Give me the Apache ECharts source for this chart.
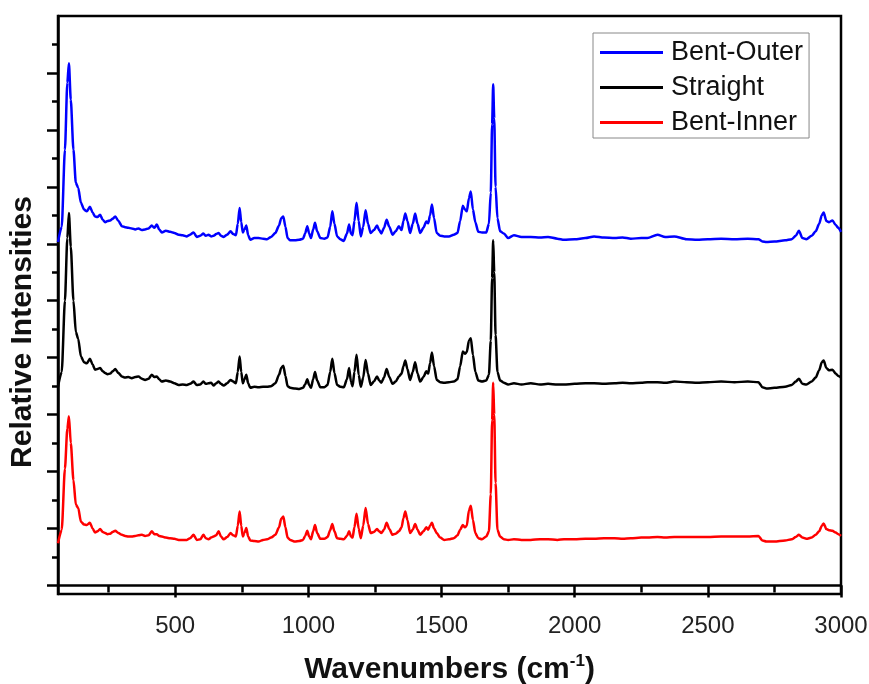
<!DOCTYPE html>
<html>
<head>
<meta charset="utf-8">
<script src="https://cdn.jsdelivr.net/npm/echarts@6/dist/echarts.min.js"></script>
<style>
html,body{margin:0;padding:0;background:#fff;}
#chart{width:869px;height:684px;}
</style>
</head>
<body>
<div id="chart"></div>
<script>
// Wavenumbers (cm-1), shared by all three spectra
const wavenumbers = [
60,74,86,95,101,108,118,127,136,146,158,168,180,190,199,208,218,228,237,246,
256,265,275,287,300,312,324,337,350,362,375,387,400,412,422,431,440,450,465,481,
497,513,528,544,556,569,581,594,606,615,625,635,644,654,663,672,682,695,708,718,
728,735,742,748,754,760,767,774,782,797,813,830,845,860,876,890,898,906,914,922,
932,950,966,980,988,996,1003,1010,1018,1025,1033,1045,1060,1072,1082,1090,1098,1108,1120,1133,
1145,1153,1160,1166,1173,1181,1189,1197,1206,1215,1224,1234,1246,1258,1266,1274,1284,1294,1304,1316,
1328,1340,1350,1357,1364,1372,1382,1392,1401,1410,1420,1432,1443,1450,1457,1464,1472,1482,1495,1510,
1528,1546,1560,1570,1580,1588,1595,1603,1610,1618,1627,1638,1652,1668,1678,1685,1690,1694,1698,1703,
1710,1720,1734,1750,1772,1800,1835,1870,1900,1935,1960,2000,2040,2073,2110,2150,2180,2211,2250,2273,
2311,2340,2374,2420,2460,2500,2550,2600,2650,2690,2705,2720,2750,2790,2815,2830,2842,2855,2870,2890,
2905,2918,2928,2935,2945,2955,2968,2980,2990,3000
];

const bentOuter = [
6.03,6.30,7.65,8.83,9.17,8.53,7.65,7.07,6.98,6.72,6.60,6.57,6.65,6.55,6.48,6.47,6.51,6.42,6.38,6.40,
6.41,6.44,6.48,6.40,6.31,6.29,6.28,6.27,6.25,6.27,6.24,6.25,6.27,6.32,6.28,6.34,6.25,6.20,6.23,6.21,
6.19,6.16,6.15,6.13,6.16,6.20,6.12,6.14,6.18,6.14,6.16,6.13,6.14,6.17,6.19,6.14,6.12,6.16,6.22,6.17,
6.15,6.35,6.63,6.38,6.20,6.25,6.32,6.15,6.07,6.10,6.10,6.09,6.08,6.12,6.19,6.32,6.45,6.48,6.30,6.10,
6.06,6.06,6.07,6.09,6.18,6.31,6.18,6.10,6.25,6.37,6.22,6.10,6.09,6.11,6.30,6.57,6.35,6.13,6.08,6.05,
6.18,6.34,6.18,6.15,6.40,6.72,6.40,6.13,6.30,6.59,6.35,6.19,6.24,6.32,6.24,6.18,6.28,6.42,6.30,6.16,
6.22,6.31,6.24,6.40,6.53,6.40,6.19,6.35,6.53,6.35,6.19,6.28,6.39,6.36,6.50,6.69,6.45,6.19,6.14,6.13,
6.13,6.16,6.19,6.40,6.67,6.60,6.57,6.80,6.92,6.60,6.38,6.21,6.20,6.20,6.35,6.90,8.10,8.80,8.20,7.00,
6.45,6.22,6.18,6.10,6.15,6.12,6.12,6.11,6.12,6.09,6.07,6.08,6.10,6.13,6.11,6.10,6.11,6.09,6.10,6.10,
6.16,6.12,6.13,6.08,6.07,6.08,6.09,6.08,6.09,6.08,6.04,6.03,6.04,6.06,6.08,6.14,6.23,6.10,6.08,6.14,
6.22,6.35,6.50,6.55,6.40,6.38,6.41,6.33,6.28,6.21
];

const straight = [
3.49,3.75,5.00,6.10,6.54,5.95,5.00,4.45,4.33,4.02,3.92,3.90,3.98,3.88,3.79,3.80,3.82,3.76,3.73,3.71,
3.72,3.76,3.80,3.73,3.67,3.65,3.66,3.64,3.66,3.67,3.63,3.61,3.63,3.70,3.66,3.67,3.62,3.58,3.60,3.58,
3.55,3.52,3.53,3.52,3.54,3.58,3.52,3.53,3.58,3.54,3.55,3.56,3.51,3.55,3.58,3.54,3.51,3.55,3.61,3.58,
3.55,3.75,4.02,3.75,3.55,3.62,3.70,3.55,3.47,3.49,3.48,3.49,3.49,3.50,3.55,3.70,3.82,3.86,3.68,3.50,
3.47,3.46,3.45,3.47,3.53,3.62,3.52,3.47,3.62,3.75,3.60,3.48,3.48,3.52,3.75,3.98,3.73,3.52,3.49,3.48,
3.62,3.82,3.58,3.50,3.75,4.05,3.70,3.49,3.65,3.96,3.72,3.52,3.58,3.67,3.60,3.56,3.65,3.80,3.66,3.54,
3.58,3.67,3.72,3.85,3.95,3.80,3.61,3.75,3.92,3.72,3.58,3.66,3.76,3.72,3.90,4.09,3.85,3.61,3.57,3.56,
3.57,3.58,3.62,3.85,4.11,4.07,4.10,4.30,4.34,4.05,3.75,3.60,3.58,3.60,3.70,4.30,5.40,6.06,5.50,4.40,
3.75,3.60,3.56,3.53,3.55,3.53,3.55,3.53,3.54,3.53,3.53,3.54,3.55,3.55,3.54,3.55,3.56,3.55,3.56,3.57,
3.57,3.56,3.58,3.57,3.56,3.57,3.58,3.57,3.58,3.57,3.48,3.46,3.47,3.49,3.52,3.58,3.63,3.54,3.53,3.58,
3.65,3.78,3.92,3.95,3.82,3.78,3.79,3.72,3.68,3.65
];

const bentInner = [
0.74,0.98,2.05,2.75,2.97,2.50,1.85,1.42,1.36,1.12,1.07,1.06,1.10,1.00,0.93,0.95,0.99,0.94,0.92,0.90,
0.91,0.94,0.96,0.92,0.89,0.87,0.86,0.86,0.87,0.88,0.89,0.87,0.88,0.95,0.90,0.90,0.87,0.86,0.84,0.83,
0.82,0.80,0.80,0.80,0.83,0.89,0.80,0.81,0.89,0.83,0.81,0.84,0.86,0.88,0.95,0.86,0.81,0.85,0.92,0.88,
0.86,1.05,1.30,1.05,0.86,0.92,1.01,0.86,0.79,0.78,0.77,0.80,0.81,0.84,0.89,1.02,1.17,1.21,1.02,0.84,
0.80,0.77,0.78,0.80,0.87,0.96,0.86,0.81,0.95,1.06,0.92,0.82,0.82,0.85,0.97,1.08,0.95,0.83,0.82,0.81,
0.87,0.95,0.86,0.84,1.02,1.26,1.00,0.83,1.05,1.36,1.08,0.92,0.94,0.99,0.95,0.92,0.98,1.10,0.99,0.89,
0.91,0.95,1.02,1.18,1.30,1.15,0.92,0.98,1.08,0.98,0.89,0.95,1.02,0.98,1.05,1.10,1.00,0.92,0.84,0.80,
0.81,0.83,0.88,0.98,1.06,1.02,1.05,1.32,1.40,1.15,0.92,0.83,0.81,0.86,0.95,1.60,2.90,3.56,3.00,1.80,
0.98,0.86,0.81,0.80,0.81,0.80,0.80,0.81,0.81,0.80,0.81,0.81,0.82,0.82,0.83,0.83,0.82,0.83,0.84,0.84,
0.85,0.84,0.85,0.85,0.85,0.85,0.86,0.86,0.86,0.87,0.79,0.77,0.77,0.79,0.81,0.85,0.89,0.84,0.82,0.84,
0.89,0.95,1.05,1.09,0.99,0.97,0.96,0.93,0.90,0.87
];

const seriesNames = ['Bent-Outer', 'Straight', 'Bent-Inner'];
const xMajorTicks = [500, 1000, 1500, 2000, 2500, 3000];
const xMinorTicks = [250, 750, 1250, 1750, 2250, 2750];
const yMajorTicks = [0, 1, 2, 3, 4, 5, 6, 7, 8, 9];
const yMinorTicks = [0.5, 1.5, 2.5, 3.5, 4.5, 5.5, 6.5, 7.5, 8.5, 9.5];

const FONT = 'Liberation Sans, Arial, sans-serif';
const toPairs = vals => wavenumbers.map((w, i) => [w, vals[i]]);
const axisLineStyle = { color: '#000', width: 2.5 };

const chart = echarts.init(document.getElementById('chart'), null, { renderer: 'canvas' });
chart.setOption({
  animation: false,
  backgroundColor: '#fff',
  grid: {
    left: 58, right: 28, top: 16, bottom: 90,
    containLabel: false, outerBoundsMode: 'none',
    show: true, borderColor: '#000', borderWidth: 2.5, backgroundColor: 'transparent'
  },
  legend: {
    data: seriesNames,
    orient: 'vertical',
    left: 593, top: 33,
    icon: 'rect',
    itemWidth: 63, itemHeight: 3,
    itemGap: 8,
    padding: [6, 6, 2, 7],
    borderColor: '#888', borderWidth: 1,
    textStyle: { fontSize: 27, color: '#111', fontFamily: FONT, padding: [0, 0, 0, 3] }
  },
  graphic: [{
    type: 'text', x: 23, y: 332, rotation: Math.PI / 2,
    style: { text: 'Relative Intensities', font: 'bold 30px ' + FONT, fill: '#111', textAlign: 'center', textVerticalAlign: 'middle' }
  }],
  xAxis: [
    {
      type: 'value', min: 60, max: 3000, position: 'bottom',
      name: 'Wavenumbers (cm{sup|-1})', nameLocation: 'middle', nameGap: 59,
      nameTextStyle: {
        fontSize: 30, fontWeight: 'bold', color: '#111', fontFamily: FONT, lineHeight: 34,
        rich: { sup: { fontSize: 17, fontWeight: 'bold', color: '#111', fontFamily: FONT, verticalAlign: 'top', lineHeight: 18 } }
      },
      axisLine: { show: true, lineStyle: axisLineStyle },
      axisTick: { show: true, length: 12, lineStyle: axisLineStyle, customValues: xMajorTicks },
      axisLabel: { show: true, customValues: xMajorTicks, formatter: v => String(v), fontSize: 24, color: '#222', fontFamily: FONT, margin: 20 },
      splitLine: { show: false }
    },
    {
      type: 'value', min: 60, max: 3000, position: 'bottom',
      axisLine: { show: false },
      axisTick: { show: true, length: 7, lineStyle: axisLineStyle, customValues: xMinorTicks },
      axisLabel: { show: false },
      splitLine: { show: false }
    }
  ],
  yAxis: [
    {
      type: 'value', min: -0.15, max: 10, position: 'left',
      axisLine: { show: true, lineStyle: axisLineStyle },
      axisTick: { show: true, length: 11, lineStyle: axisLineStyle, customValues: yMajorTicks },
      axisLabel: { show: false },
      splitLine: { show: false }
    },
    {
      type: 'value', min: -0.15, max: 10, position: 'left',
      axisLine: { show: false },
      axisTick: { show: true, length: 6, lineStyle: axisLineStyle, customValues: yMinorTicks },
      axisLabel: { show: false },
      splitLine: { show: false }
    }
  ],
  series: [
    { name: seriesNames[0], type: 'line', data: toPairs(bentOuter), showSymbol: false, symbol: 'none', smooth: 0.25, smoothMonotone: 'x', color: '#0000ff', lineStyle: { width: 2.5, color: '#0000ff' } },
    { name: seriesNames[1], type: 'line', data: toPairs(straight), showSymbol: false, symbol: 'none', smooth: 0.25, smoothMonotone: 'x', color: '#000000', lineStyle: { width: 2.5, color: '#000000' } },
    { name: seriesNames[2], type: 'line', data: toPairs(bentInner), showSymbol: false, symbol: 'none', smooth: 0.25, smoothMonotone: 'x', color: '#ff0000', lineStyle: { width: 2.5, color: '#ff0000' } }
  ]
});
</script>
</body>
</html>
